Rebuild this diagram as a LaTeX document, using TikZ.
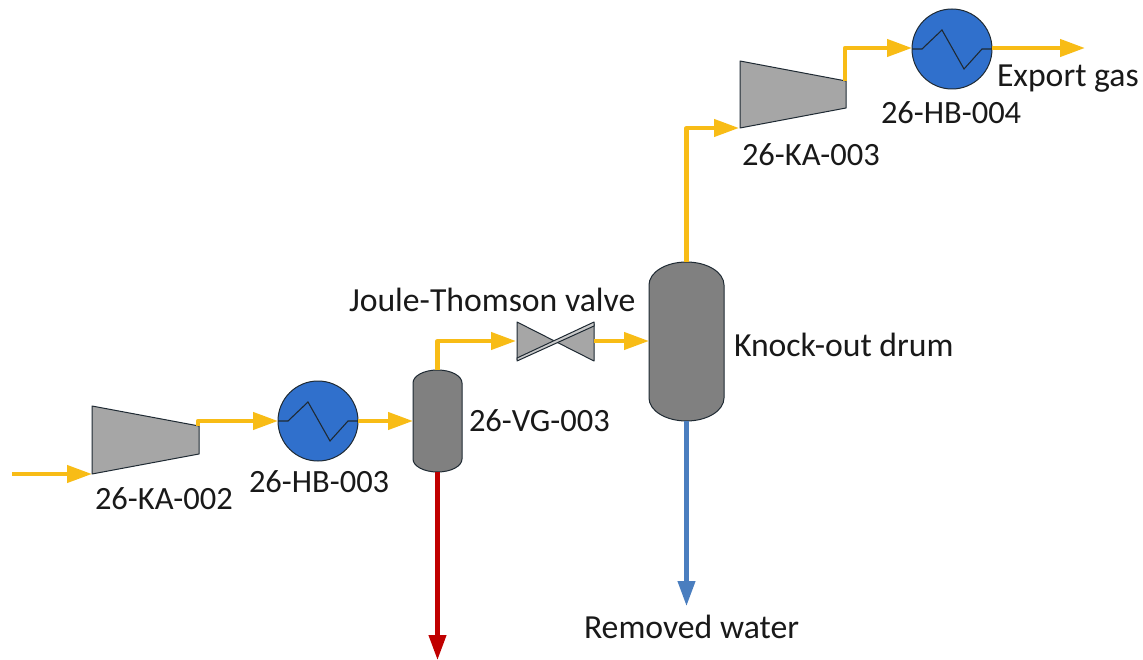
\documentclass[tikz,border=0pt]{standalone}
\usepackage{fontspec}
\setmainfont{Carlito}
\usetikzlibrary{arrows.meta,calc}
\definecolor{flowyellow}{HTML}{F8BC16}
\definecolor{flowblue}{HTML}{4A7EBF}
\definecolor{flowred}{HTML}{C00000}
\definecolor{hxblue}{HTML}{3070CC}
\definecolor{compgray}{HTML}{A6A6A6}
\definecolor{drumgray}{HTML}{808080}
\definecolor{edge}{HTML}{1F2A33}
\tikzset{
  x=1pt,y=-1pt,
  flow/.style={line width=4.2pt,flowyellow,line join=round,-{Triangle[length=25pt,width=17pt]}},
  drain/.style={flow,draw=#1,#1},
  hx/.style={circle,draw=edge,fill=hxblue,line width=1pt,inner sep=0pt,outer sep=0pt,minimum size=80pt},
  equip/.style={draw=edge,line width=1pt,line join=round},
  coil/.style={draw=edge,line width=1.1pt,line join=miter},
  tag/.style={inner sep=0pt,outer sep=0pt,anchor=base west,font=\fontsize{32.5}{36}\selectfont,text=black!90},
  wordtag/.style={tag,font=\fontsize{33.7}{38}\selectfont},
}
% #1 name, #2 centre x, #3 top y, #4 bottom y, #5 half width, #6 cap height
\newcommand{\drumshape}[6]{%
  \coordinate (#1top) at (#2,#3);
  \coordinate (#1bot) at (#2,#4);
  \fill[drumgray] (#2-#5,#3+#6) arc[x radius=#5,y radius=-#6,start angle=180,end angle=0]
    -- (#2+#5,#4-#6) arc[x radius=#5,y radius=-#6,start angle=0,end angle=-180] -- cycle;
  \draw[equip] (#2-#5,#3+#6) arc[x radius=#5,y radius=-#6,start angle=180,end angle=0]
    -- (#2+#5,#4-#6) arc[x radius=#5,y radius=-#6,start angle=0,end angle=-180] -- cycle;
}
\begin{document}
\begin{tikzpicture}
\useasboundingbox (0,0) rectangle (1143,660);
\fill[white] (0,0) rectangle (1143,660);

% compressors
\coordinate (kaInA) at (92,474);
\coordinate (kaOutA) at (198,426);
\draw[equip,fill=compgray] (92,406) -- (kaInA) -- (199,454) -- (199,426) -- cycle;
\coordinate (kaInB) at (740,128);
\coordinate (kaOutB) at (845,81);
\draw[equip,fill=compgray] (740,61) -- (kaInB) -- (846,108) -- (846,81) -- cycle;

% heat exchangers
\node[hx] (hbA) at (318,421) {};
\draw[coil] (hbA.west) -- ++(10,0) -- ++(20,-19) -- ++(22,39) -- ++(18,-20) -- (hbA.east);
\node[hx] (hbB) at (952,49) {};
\draw[coil] (hbB.west) -- ++(10,0) -- ++(20,-19) -- ++(22,39) -- ++(18,-20) -- (hbB.east);

% vessels
\drumshape{vg}{437.5}{370}{472}{24.5}{13}
\drumshape{ko}{686.5}{262}{421}{37.5}{23}
\coordinate (vgIn) at (413,421);
\coordinate (koIn) at (649,341);

% Joule-Thomson valve
\coordinate (jtIn) at (516,341);
\coordinate (jtOut) at (594,341);
\draw[equip,fill=compgray] (517,322) -- (594,361) -- (594,324) -- (517,359.5) -- cycle;
\draw[equip,fill=compgray!60] (517,358) -- (594,322) -- (594,326) -- (517,361) -- cycle;

% connectors
\coordinate (inlet) at (12,474);
\coordinate (exportEnd) at (1085,48);
\coordinate (waterEnd) at (686.5,606);
\coordinate (drainEnd) at (437.5,660);
\draw[flow] (inlet) -- (kaInA);
\draw[flow] (kaOutA) |- (hbA.west);
\draw[flow] (hbA.east) -- (vgIn);
\draw[flow] (vgtop) |- (jtIn);
\draw[flow] (jtOut) -- (koIn);
\draw[flow] (kotop) |- ($(kaInB)+(-1,0)$);
\draw[flow] (kaOutB) |- ($(hbB.west)+(0,-1)$);
\draw[flow] ($(hbB.east)+(0,-1)$) -- (exportEnd);
\draw[drain=flowblue] (kobot) -- (waterEnd);
\draw[drain=flowred] (vgbot) -- (drainEnd);

% labels
\node[tag] (tKaA) at (95,509) {26-KA-002};
\node[tag] (tHbA) at (249,492) {26-HB-003};
\node[tag] (tVg) at (469,431) {26-VG-003};
\node[wordtag] (tJt) at (349,312) {Joule-Thomson valve};
\node[wordtag] (tKo) at (734,356) {Knock-out drum};
\node[wordtag] (tWater) at (584,638) {Removed water};
\node[wordtag] (tExport) at (997,87) {Export gas};
\node[tag] (tKaB) at (742,166) {26-KA-003};
\node[tag] (tHbB) at (881,124) {26-HB-004};
\end{tikzpicture}
\end{document}
